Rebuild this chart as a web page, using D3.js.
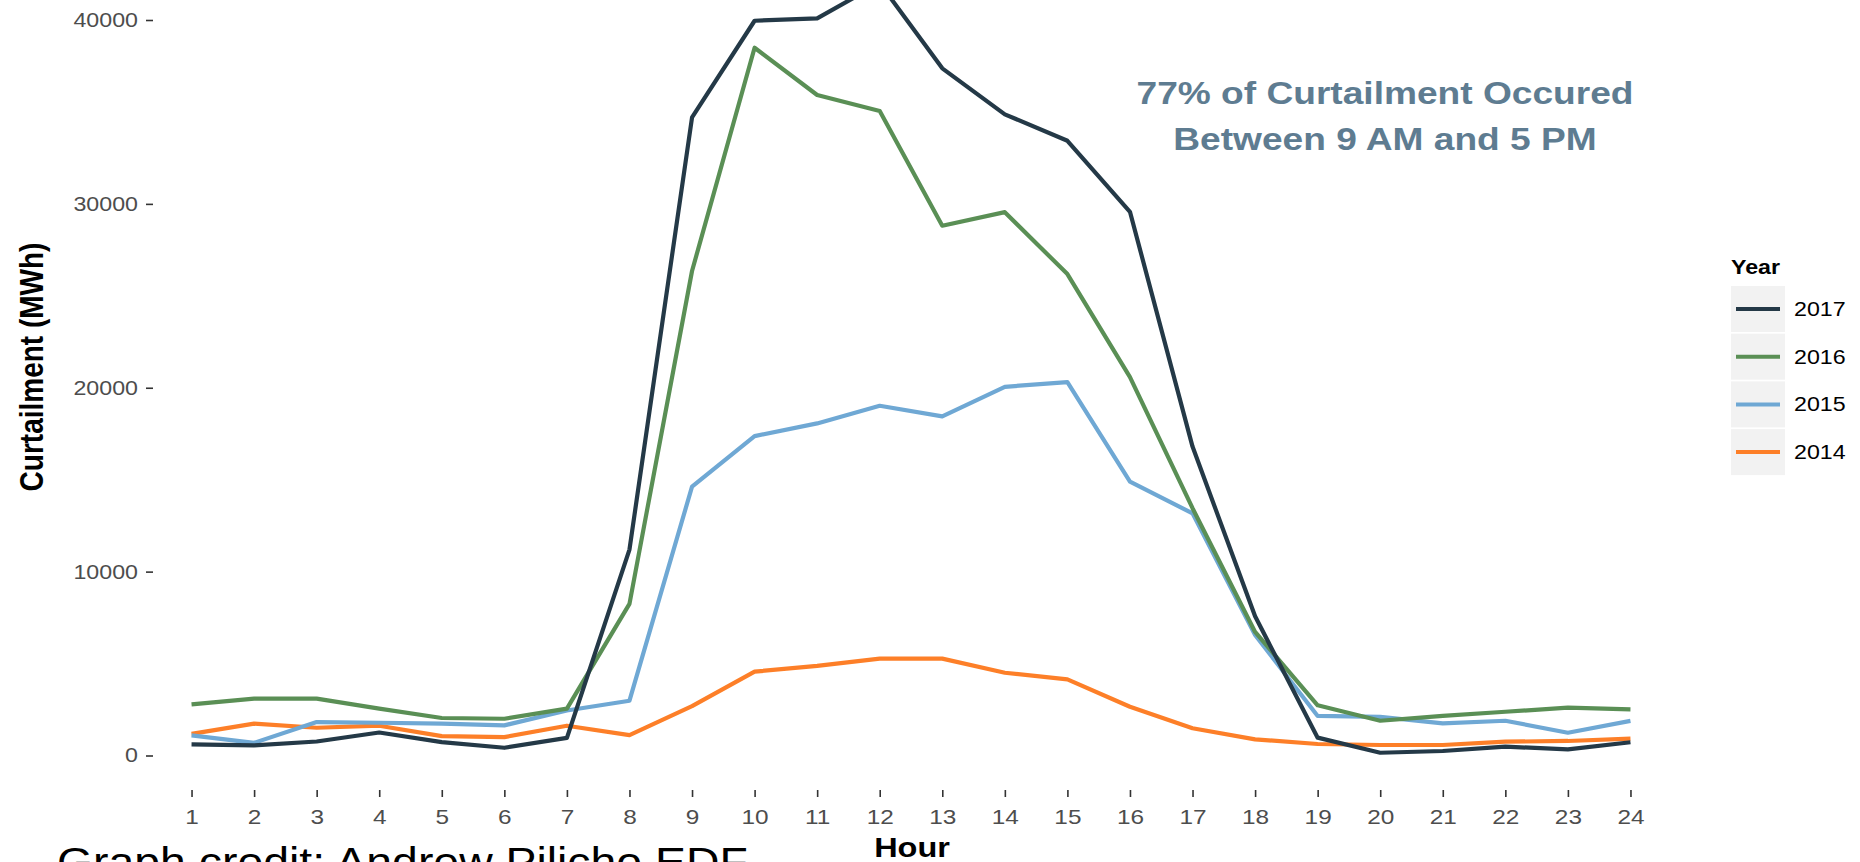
<!DOCTYPE html>
<html>
<head>
<meta charset="utf-8">
<script src="https://cdn.jsdelivr.net/npm/d3@7"></script>
<style>
  body { margin: 0; background: #fff; }
  svg { display: block; }
  text { font-family: Arial, "Liberation Sans", sans-serif; }
</style>
</head>
<body>
<svg id="chart" width="1860" height="862"></svg>
<script>
// hourly curtailment (MWh) by year
const hours = ["1","2","3","4","5","6","7","8","9","10","11","12","13","14","15","16","17","18","19","20","21","22","23","24"];
const y2017 = [600, 550, 760, 1250, 730, 420, 960, 11200, 34700, 39960, 40090, 42000, 37370, 34870, 33430, 29570, 16800, 7570, 970, 150, 245, 480, 335, 720];
const y2016 = [2780, 3090, 3090, 2550, 2040, 2000, 2550, 8250, 26350, 38490, 35920, 35050, 28810, 29550, 26180, 20580, 13450, 6720, 2730, 1890, 2160, 2380, 2600, 2510];
const y2015 = [1090, 690, 1820, 1780, 1730, 1640, 2450, 2980, 14620, 17370, 18060, 19020, 18440, 20050, 20310, 14890, 13170, 6550, 2150, 2100, 1750, 1890, 1240, 1880];
const y2014 = [1180, 1730, 1510, 1620, 1050, 1000, 1620, 1110, 2690, 4560, 4870, 5270, 5270, 4500, 4140, 2650, 1480, 880, 625, 570, 570, 750, 790, 915];
const years = ["2017", "2016", "2015", "2014"];
const yTicks = [0, 10000, 20000, 30000, 40000];

const series = [
  { name: "2014", values: y2014, color: "#fd7f28" },
  { name: "2015", values: y2015, color: "#6fa8d4" },
  { name: "2016", values: y2016, color: "#5a8f55" },
  { name: "2017", values: y2017, color: "#243947" }
];

const sx = 1.16; // the source picture is stretched sideways
const svg = d3.select("#chart");

const x = d3.scalePoint().domain(hours).range([154, 1668]).padding(0.6);
const y = d3.scaleLinear().domain([0, 40000]).range([755.5, 20]);

// y axis
svg.append("g")
  .attr("transform", "translate(153,0)")
  .call(d3.axisLeft(y).tickValues(yTicks).tickFormat(d3.format("d")).tickSize(7).tickPadding(6))
  .call(g => g.select(".domain").remove())
  .call(g => g.selectAll("line").attr("stroke", "#333").attr("stroke-width", 1.6))
  .call(g => g.selectAll("text")
    .attr("transform", "scale(" + sx + ",1)")
    .attr("fill", "#4d4d4d")
    .attr("font-size", 20)
    .style("font-family", "Arial, 'Liberation Sans', sans-serif"));

// x axis
svg.append("g")
  .attr("transform", "translate(0,790)")
  .call(d3.axisBottom(x).tickSize(7).tickPadding(12))
  .call(g => g.select(".domain").remove())
  .call(g => g.selectAll("line").attr("stroke", "#333").attr("stroke-width", 1.6))
  .call(g => g.selectAll("text")
    .attr("transform", "scale(" + sx + ",1)")
    .attr("fill", "#4d4d4d")
    .attr("font-size", 21)
    .style("font-family", "Arial, 'Liberation Sans', sans-serif"));

// lines
const line = d3.line()
  .x((d, i) => x(hours[i]))
  .y(d => y(d));

svg.append("g").selectAll("path")
  .data(series)
  .enter()
  .append("path")
  .attr("d", d => line(d.values))
  .attr("fill", "none")
  .attr("stroke", d => d.color)
  .attr("stroke-width", 4.2)
  .attr("stroke-linejoin", "round");

// axis titles
svg.append("text")
  .attr("transform", "translate(43,367) scale(" + sx + ",1) rotate(-90)")
  .attr("text-anchor", "middle")
  .attr("font-size", 28)
  .attr("font-weight", "bold")
  .text("Curtailment (MWh)");

svg.append("text")
  .attr("transform", "translate(912,857) scale(" + sx + ",1)")
  .attr("text-anchor", "middle")
  .attr("font-size", 28)
  .attr("font-weight", "bold")
  .text("Hour");

// annotation
const note = svg.append("g").attr("fill", "#5e7c91").attr("font-weight", "bold").attr("font-size", 32);
note.append("text")
  .attr("transform", "translate(1385,104) scale(" + sx + ",1)")
  .attr("text-anchor", "middle")
  .text("77% of Curtailment Occured");
note.append("text")
  .attr("transform", "translate(1385,150) scale(" + sx + ",1)")
  .attr("text-anchor", "middle")
  .text("Between 9 AM and 5 PM");

// legend
const legend = svg.append("g").attr("transform", "translate(1731,286)");
legend.append("text")
  .attr("transform", "translate(0,-12) scale(" + sx + ",1)")
  .attr("font-size", 20)
  .attr("font-weight", "bold")
  .text("Year");

const colorOf = {};
series.forEach(s => { colorOf[s.name] = s.color; });

const key = legend.selectAll("g.key")
  .data(years)
  .enter()
  .append("g")
  .attr("class", "key")
  .attr("transform", (d, i) => "translate(0," + i * 47.7 + ")");
key.append("rect")
  .attr("width", 54)
  .attr("height", 46)
  .attr("fill", "#f2f2f2");
key.append("line")
  .attr("x1", 5).attr("x2", 49)
  .attr("y1", 23).attr("y2", 23)
  .attr("stroke", d => colorOf[d])
  .attr("stroke-width", 4);
key.append("text")
  .attr("transform", "translate(63,30) scale(" + sx + ",1)")
  .attr("font-size", 20)
  .text(d => d);

// credit line, cut by the bottom edge as in the source
svg.append("text")
  .attr("transform", "translate(57,876) scale(" + sx + ",1)")
  .attr("font-size", 40)
  .attr("fill", "#000")
  .text("Graph credit: Andrew Pilicho EDF");
</script>
</body>
</html>
